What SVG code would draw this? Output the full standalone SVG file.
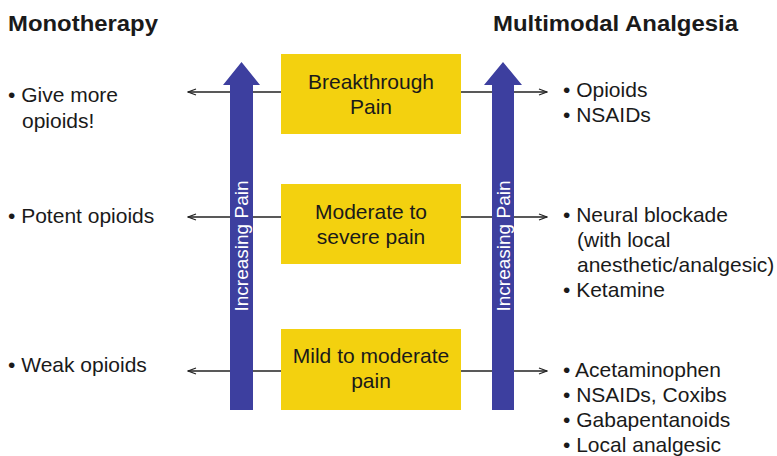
<svg xmlns="http://www.w3.org/2000/svg" width="777" height="456" viewBox="0 0 777 456">
<defs>
<marker id="ah" markerWidth="10" markerHeight="8" refX="9" refY="4" orient="auto" markerUnits="userSpaceOnUse">
<path d="M1,1 L9,4 L1,7" fill="none" stroke="#222" stroke-width="1.3"/>
</marker>
<style>
.t{font-family:"Liberation Sans",Arial,sans-serif;font-size:21px;fill:#1a1a1a}
.h{font-family:"Liberation Sans",Arial,sans-serif;font-size:22px;font-weight:bold;fill:#1a1a1a}
.bx{fill:#f3d10f}
.up{fill:#3d3f9f}
.ut{font-family:"Liberation Sans",Arial,sans-serif;font-size:19px;fill:#ffffff}
.c{stroke:#222;stroke-width:1.6;fill:none;marker-end:url(#ah)}
.m{text-anchor:middle}
</style>
</defs>
<rect width="777" height="456" fill="#ffffff"/>
<g id="connectors">
<line class="c" x1="281" y1="92" x2="188" y2="92"/>
<line class="c" x1="461" y1="92" x2="547" y2="92"/>
<line class="c" x1="281" y1="217" x2="188" y2="217"/>
<line class="c" x1="461" y1="217" x2="547" y2="217"/>
<line class="c" x1="281" y1="371" x2="188" y2="371"/>
<line class="c" x1="461" y1="371" x2="547" y2="371"/>
</g>
<g id="arrow-left">
<polygon class="up" points="230,410 230,85 223,85 241.5,62 260,85 253,85 253,410"/>
<text class="ut m" transform="translate(248,246) rotate(-90)">Increasing Pain</text>
</g>
<g id="arrow-right">
<polygon class="up" points="492,410 492,85 484,85 503,62 522,85 514,85 514,410"/>
<text class="ut m" transform="translate(509.5,246) rotate(-90)">Increasing Pain</text>
</g>
<g id="box-breakthrough">
<rect class="bx" x="281" y="54" width="180" height="80"/>
<text class="t m" x="371" y="89">Breakthrough</text>
<text class="t m" x="371" y="114">Pain</text>
</g>
<g id="box-moderate-severe">
<rect class="bx" x="281" y="184" width="180" height="80"/>
<text class="t m" x="371" y="219">Moderate to</text>
<text class="t m" x="371" y="244">severe pain</text>
</g>
<g id="box-mild-moderate">
<rect class="bx" x="281" y="329" width="180" height="81"/>
<text class="t m" x="371" y="363">Mild to moderate</text>
<text class="t m" x="371" y="388">pain</text>
</g>
<g id="heading-mono">
<text class="h" x="8" y="31" textLength="150" lengthAdjust="spacingAndGlyphs">Monotherapy</text>
</g>
<g id="heading-multi">
<text class="h" x="493" y="31" textLength="245" lengthAdjust="spacingAndGlyphs">Multimodal Analgesia</text>
</g>
<g id="mono-list">
<text class="t" x="8" y="102">• Give more</text>
<text class="t" x="22" y="128">opioids!</text>
<text class="t" x="8" y="223">• Potent opioids</text>
<text class="t" x="8" y="372">• Weak opioids</text>
</g>
<g id="multi-list">
<text class="t" x="563" y="97">• Opioids</text>
<text class="t" x="563" y="122">• NSAIDs</text>
<text class="t" x="563" y="222">• Neural blockade</text>
<text class="t" x="577" y="247">(with local</text>
<text class="t" x="577" y="272">anesthetic/analgesic)</text>
<text class="t" x="563" y="297">• Ketamine</text>
<text class="t" x="563" y="377">• Acetaminophen</text>
<text class="t" x="563" y="402">• NSAIDs, Coxibs</text>
<text class="t" x="563" y="427">• Gabapentanoids</text>
<text class="t" x="563" y="452">• Local analgesic</text>
</g>
</svg>
